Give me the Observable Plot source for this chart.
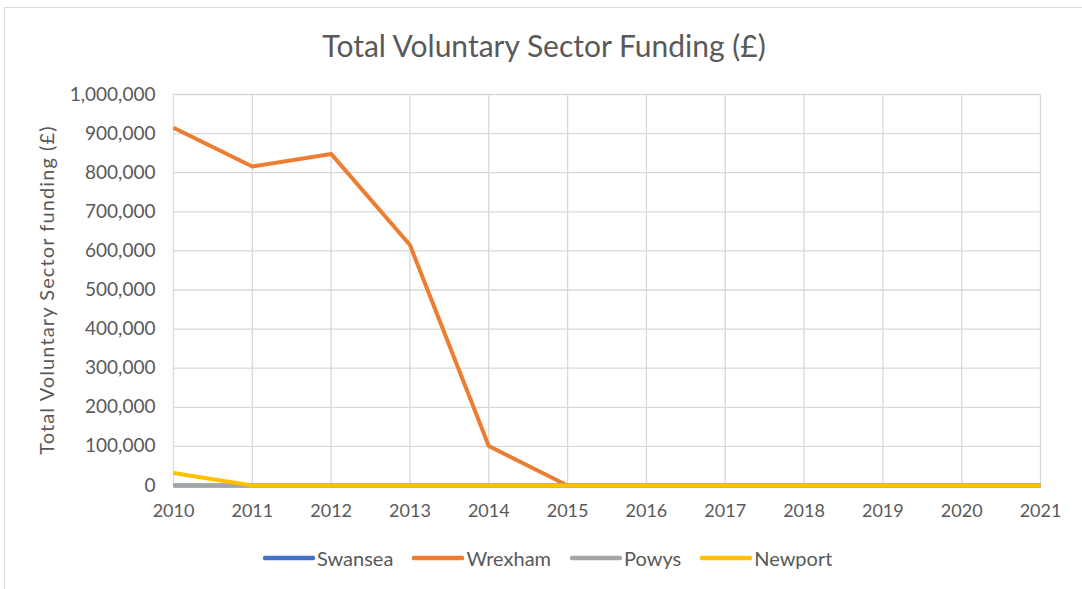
<!DOCTYPE html>
<html>
<head>
<meta charset="utf-8">
<script src="https://cdn.jsdelivr.net/npm/d3@7"></script>
<script src="https://cdn.jsdelivr.net/npm/@observablehq/plot@0.6"></script>
<style>
  html, body { margin: 0; padding: 0; background: #fff; }
  body { width: 1082px; height: 589px; overflow: hidden; position: relative; font-family: Lato, "Open Sans", sans-serif; color: #595959; }
  #frame { position: absolute; left: 4px; top: 7px; width: 1100px; height: 620px; border: 1px solid #d9d9d9; box-sizing: border-box; }
  #title { position: absolute; left: 0; width: 1088px; top: 27px; text-align: center; font-size: 30px; color: #595959; }
  #chart { position: absolute; left: 0; top: 0; }
  #legend { position: absolute; left: 263px; top: 546px; display: flex; font-size: 20px; color: #595959; }
  .item { display: flex; align-items: center; margin-right: 19px; }
  .item svg { margin-right: 2px; }
</style>
</head>
<body>
<div id="frame"></div>
<div id="chart"></div>
<div id="title">Total Voluntary Sector Funding (£)</div>
<div id="legend"></div>
<script>
const years = [2010, 2011, 2012, 2013, 2014, 2015, 2016, 2017, 2018, 2019, 2020, 2021];
const seriesNames = ["Swansea", "Wrexham", "Powys", "Newport"];
const swansea = [0, 0, 0, 0, 0, 0, 0, 0, 0, 0, 0, 0];
const wrexham = [915000, 816000, 848000, 615000, 101000, 0, 0, 0, 0, 0, 0, 0];
const powys   = [0, 0, 0, 0, 0, 0, 0, 0, 0, 0, 0, 0];
const newport = [32000, 0, 0, 0, 0, 0, 0, 0, 0, 0, 0, 0];
const colors = ["#4472C4", "#ED7D31", "#A5A5A5", "#FFC000"];
const yTicks = [0, 100000, 200000, 300000, 400000, 500000, 600000, 700000, 800000, 900000, 1000000];
const yLabel = "Total Voluntary Sector funding (£)";

const seriesValues = [swansea, wrexham, powys, newport];
const data = [];
seriesNames.forEach((name, i) => {
  years.forEach((yr, j) => data.push({series: name, year: yr, value: seriesValues[i][j]}));
});

const fmt = d3.format(",");
const chart = Plot.plot({
  width: 1082,
  height: 530,
  marginTop: 94,
  marginBottom: 45,
  marginLeft: 173,
  marginRight: 42,
  style: { fontFamily: "Lato, 'Open Sans', sans-serif", fontSize: "18px", color: "#595959", background: "transparent" },
  x: { domain: [2010, 2021], ticks: years, tickFormat: d => String(d) },
  y: { domain: [0, 1000000], ticks: yTicks },
  color: { domain: seriesNames, range: colors },
  marks: [
    Plot.gridX(years, { stroke: "#d9d9d9", strokeOpacity: 1, strokeWidth: 1.3 }),
    Plot.gridY(yTicks, { stroke: "#d9d9d9", strokeOpacity: 1, strokeWidth: 1.3 }),
    Plot.axisX(years, { tickSize: 0, tickPadding: 19, tickFormat: d => String(d), label: null, fill: "#595959" }),
    Plot.axisY(yTicks, { tickSize: 0, tickPadding: 18, tickFormat: fmt, label: null, fill: "#595959", fontSize: 19 }),
    Plot.axisY({ ticks: [], tickSize: 0, label: yLabel, labelAnchor: "center", labelArrow: "none", labelOffset: 134, fill: "#595959", fontSize: 20 }),
    Plot.line(data, { x: "year", y: "value", z: "series", stroke: "series", strokeWidth: 4, strokeLinejoin: "round", strokeLinecap: "butt" })
  ]
});
document.getElementById("chart").appendChild(chart);
d3.select(chart).selectAll("text").filter(function() { return this.textContent === yLabel; })
  .style("letter-spacing", "1.1px");

const legend = document.getElementById("legend");
seriesNames.forEach((name, i) => {
  const item = document.createElement("div");
  item.className = "item";
  item.innerHTML = `<svg width="52" height="10"><line x1="2" y1="5" x2="50" y2="5" stroke="${colors[i]}" stroke-width="4.5" stroke-linecap="round"/></svg><span>${name}</span>`;
  legend.appendChild(item);
});
</script>
</body>
</html>
